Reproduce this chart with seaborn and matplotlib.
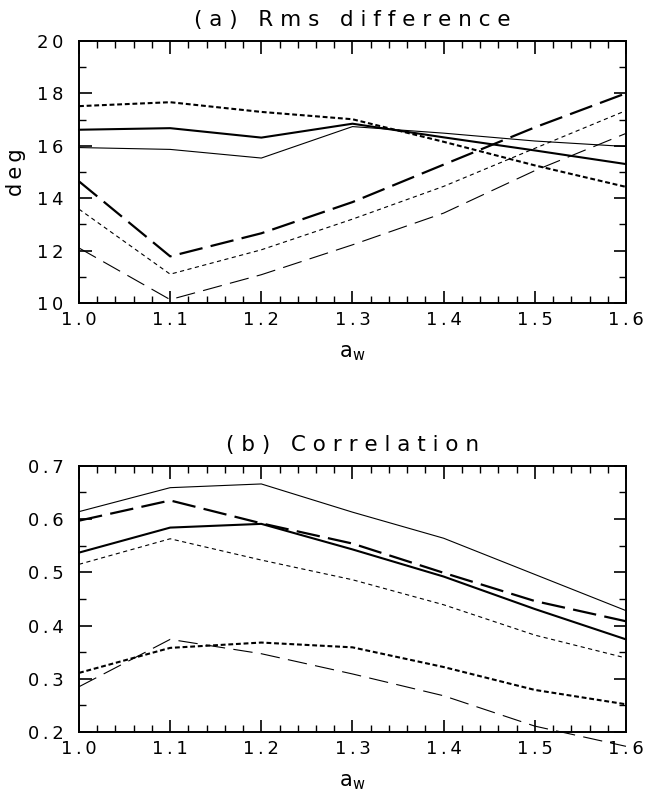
import matplotlib
matplotlib.use("Agg")
import matplotlib.pyplot as plt
from matplotlib.ticker import MultipleLocator, FuncFormatter
import seaborn as sns
import pandas as pd

# sensitivity parameter on the x axis
aw = [1.0, 1.1, 1.2, 1.3, 1.4, 1.5, 1.6]

# (a) rms difference, deg
rms_thick_solid = [16.61, 16.67, 16.31, 16.84, 16.32, 15.82, 15.30]
rms_thin_solid = [15.93, 15.86, 15.53, 16.73, 16.48, 16.18, 15.97]
rms_thick_dot = [17.51, 17.66, 17.29, 17.01, 16.15, 15.25, 14.43]
rms_thick_dash = [14.64, 11.78, 12.66, 13.85, 15.28, 16.70, 18.00]
rms_thin_dot = [13.58, 11.10, 12.03, 13.20, 14.45, 15.90, 17.34]
rms_thin_dash = [12.10, 10.13, 11.08, 12.22, 13.43, 15.05, 16.47]

# (b) correlation
cor_thin_solid = [0.614, 0.659, 0.666, 0.613, 0.564, 0.496, 0.428]
cor_thick_dash = [0.597, 0.635, 0.592, 0.554, 0.499, 0.446, 0.408]
cor_thick_solid = [0.537, 0.584, 0.591, 0.543, 0.492, 0.431, 0.374]
cor_thin_dot = [0.515, 0.563, 0.523, 0.486, 0.439, 0.382, 0.339]
cor_thick_dot = [0.311, 0.358, 0.368, 0.359, 0.322, 0.279, 0.252]
cor_thin_dash = [0.285, 0.374, 0.347, 0.309, 0.268, 0.211, 0.173]

sns.set_theme(style="ticks")
plt.rcParams["font.family"] = ["DejaVu Sans"]
plt.rcParams["lines.scale_dashes"] = False
for key in ["text.color", "axes.labelcolor", "xtick.color", "ytick.color"]:
    plt.rcParams[key] = "black"

# line styles: (linewidth, linestyle)
styles = {
    "thick_solid": (1.5, "-"),
    "thin_solid": (0.8, "-"),
    "thick_dot": (1.5, (0, (3.5, 2.0))),
    "thick_dash": (1.6, (0, (17, 6))),
    "thin_dot": (0.8, (0, (3.0, 2.5))),
    "thin_dash": (0.8, (0, (14, 6))),
}

panel_a = {
    "thick_solid": rms_thick_solid, "thin_solid": rms_thin_solid,
    "thick_dot": rms_thick_dot, "thick_dash": rms_thick_dash,
    "thin_dot": rms_thin_dot, "thin_dash": rms_thin_dash,
}
panel_b = {
    "thin_solid": cor_thin_solid, "thick_dash": cor_thick_dash,
    "thick_solid": cor_thick_solid, "thin_dot": cor_thin_dot,
    "thick_dot": cor_thick_dot, "thin_dash": cor_thin_dash,
}


def spaced(s, sep="\u2009"):
    return sep.join(s)


def title_text(s):
    # wide letter spacing, as in the original plot
    return "   ".join(" ".join(w) for w in s.split(" "))


fig = plt.figure(figsize=(6.45, 7.92), dpi=100)
ax_a = fig.add_axes([0.1225, 0.6174, 0.848, 0.331])
ax_b = fig.add_axes([0.1225, 0.0758, 0.848, 0.336])

for ax, series in [(ax_a, panel_a), (ax_b, panel_b)]:
    for name, vals in series.items():
        lw, ls = styles[name]
        df = pd.DataFrame({"aw": aw, "val": vals})
        sns.lineplot(data=df, x="aw", y="val", ax=ax, color="black",
                     linewidth=lw, linestyle=ls, clip_on=False)

xfmt = FuncFormatter(lambda v, p: spaced(f"{v:.1f}"))

ax_a.set_xlim(1.0, 1.6)
ax_a.set_ylim(10, 20)
ax_a.yaxis.set_major_locator(MultipleLocator(2))
ax_a.yaxis.set_minor_locator(MultipleLocator(1))
ax_a.yaxis.set_major_formatter(FuncFormatter(lambda v, p: spaced(f"{v:.0f}")))
ax_a.set_title(title_text("(a) Rms difference"), fontsize=15.5, pad=11)
ax_a.set_ylabel(spaced("deg"), fontsize=15, labelpad=8)

ax_b.set_xlim(1.0, 1.6)
ax_b.set_ylim(0.2, 0.7)
ax_b.yaxis.set_major_locator(MultipleLocator(0.1))
ax_b.yaxis.set_minor_locator(MultipleLocator(0.05))
ax_b.yaxis.set_major_formatter(FuncFormatter(lambda v, p: spaced(f"{v:.1f}")))
ax_b.set_title(title_text("(b) Correlation"), fontsize=15.5, pad=11)
ax_b.set_ylabel("")

for ax in (ax_a, ax_b):
    ax.xaxis.set_major_locator(MultipleLocator(0.1))
    ax.xaxis.set_minor_locator(MultipleLocator(0.02))
    ax.xaxis.set_major_formatter(xfmt)
    ax.set_xlabel(r"a$_\mathregular{w}$", fontsize=15, labelpad=10)
    ax.tick_params(which="both", direction="in", top=True, right=True,
                   labelsize=13, color="black")
    ax.tick_params(axis="x", pad=6)
    ax.tick_params(axis="y", pad=11)
    ax.tick_params(which="major", length=9, width=1.2)
    ax.tick_params(which="minor", length=5, width=1.0)
    for sp in ax.spines.values():
        sp.set_linewidth(1.4)
        sp.set_color("black")

fig.savefig("out.png", dpi=100)
